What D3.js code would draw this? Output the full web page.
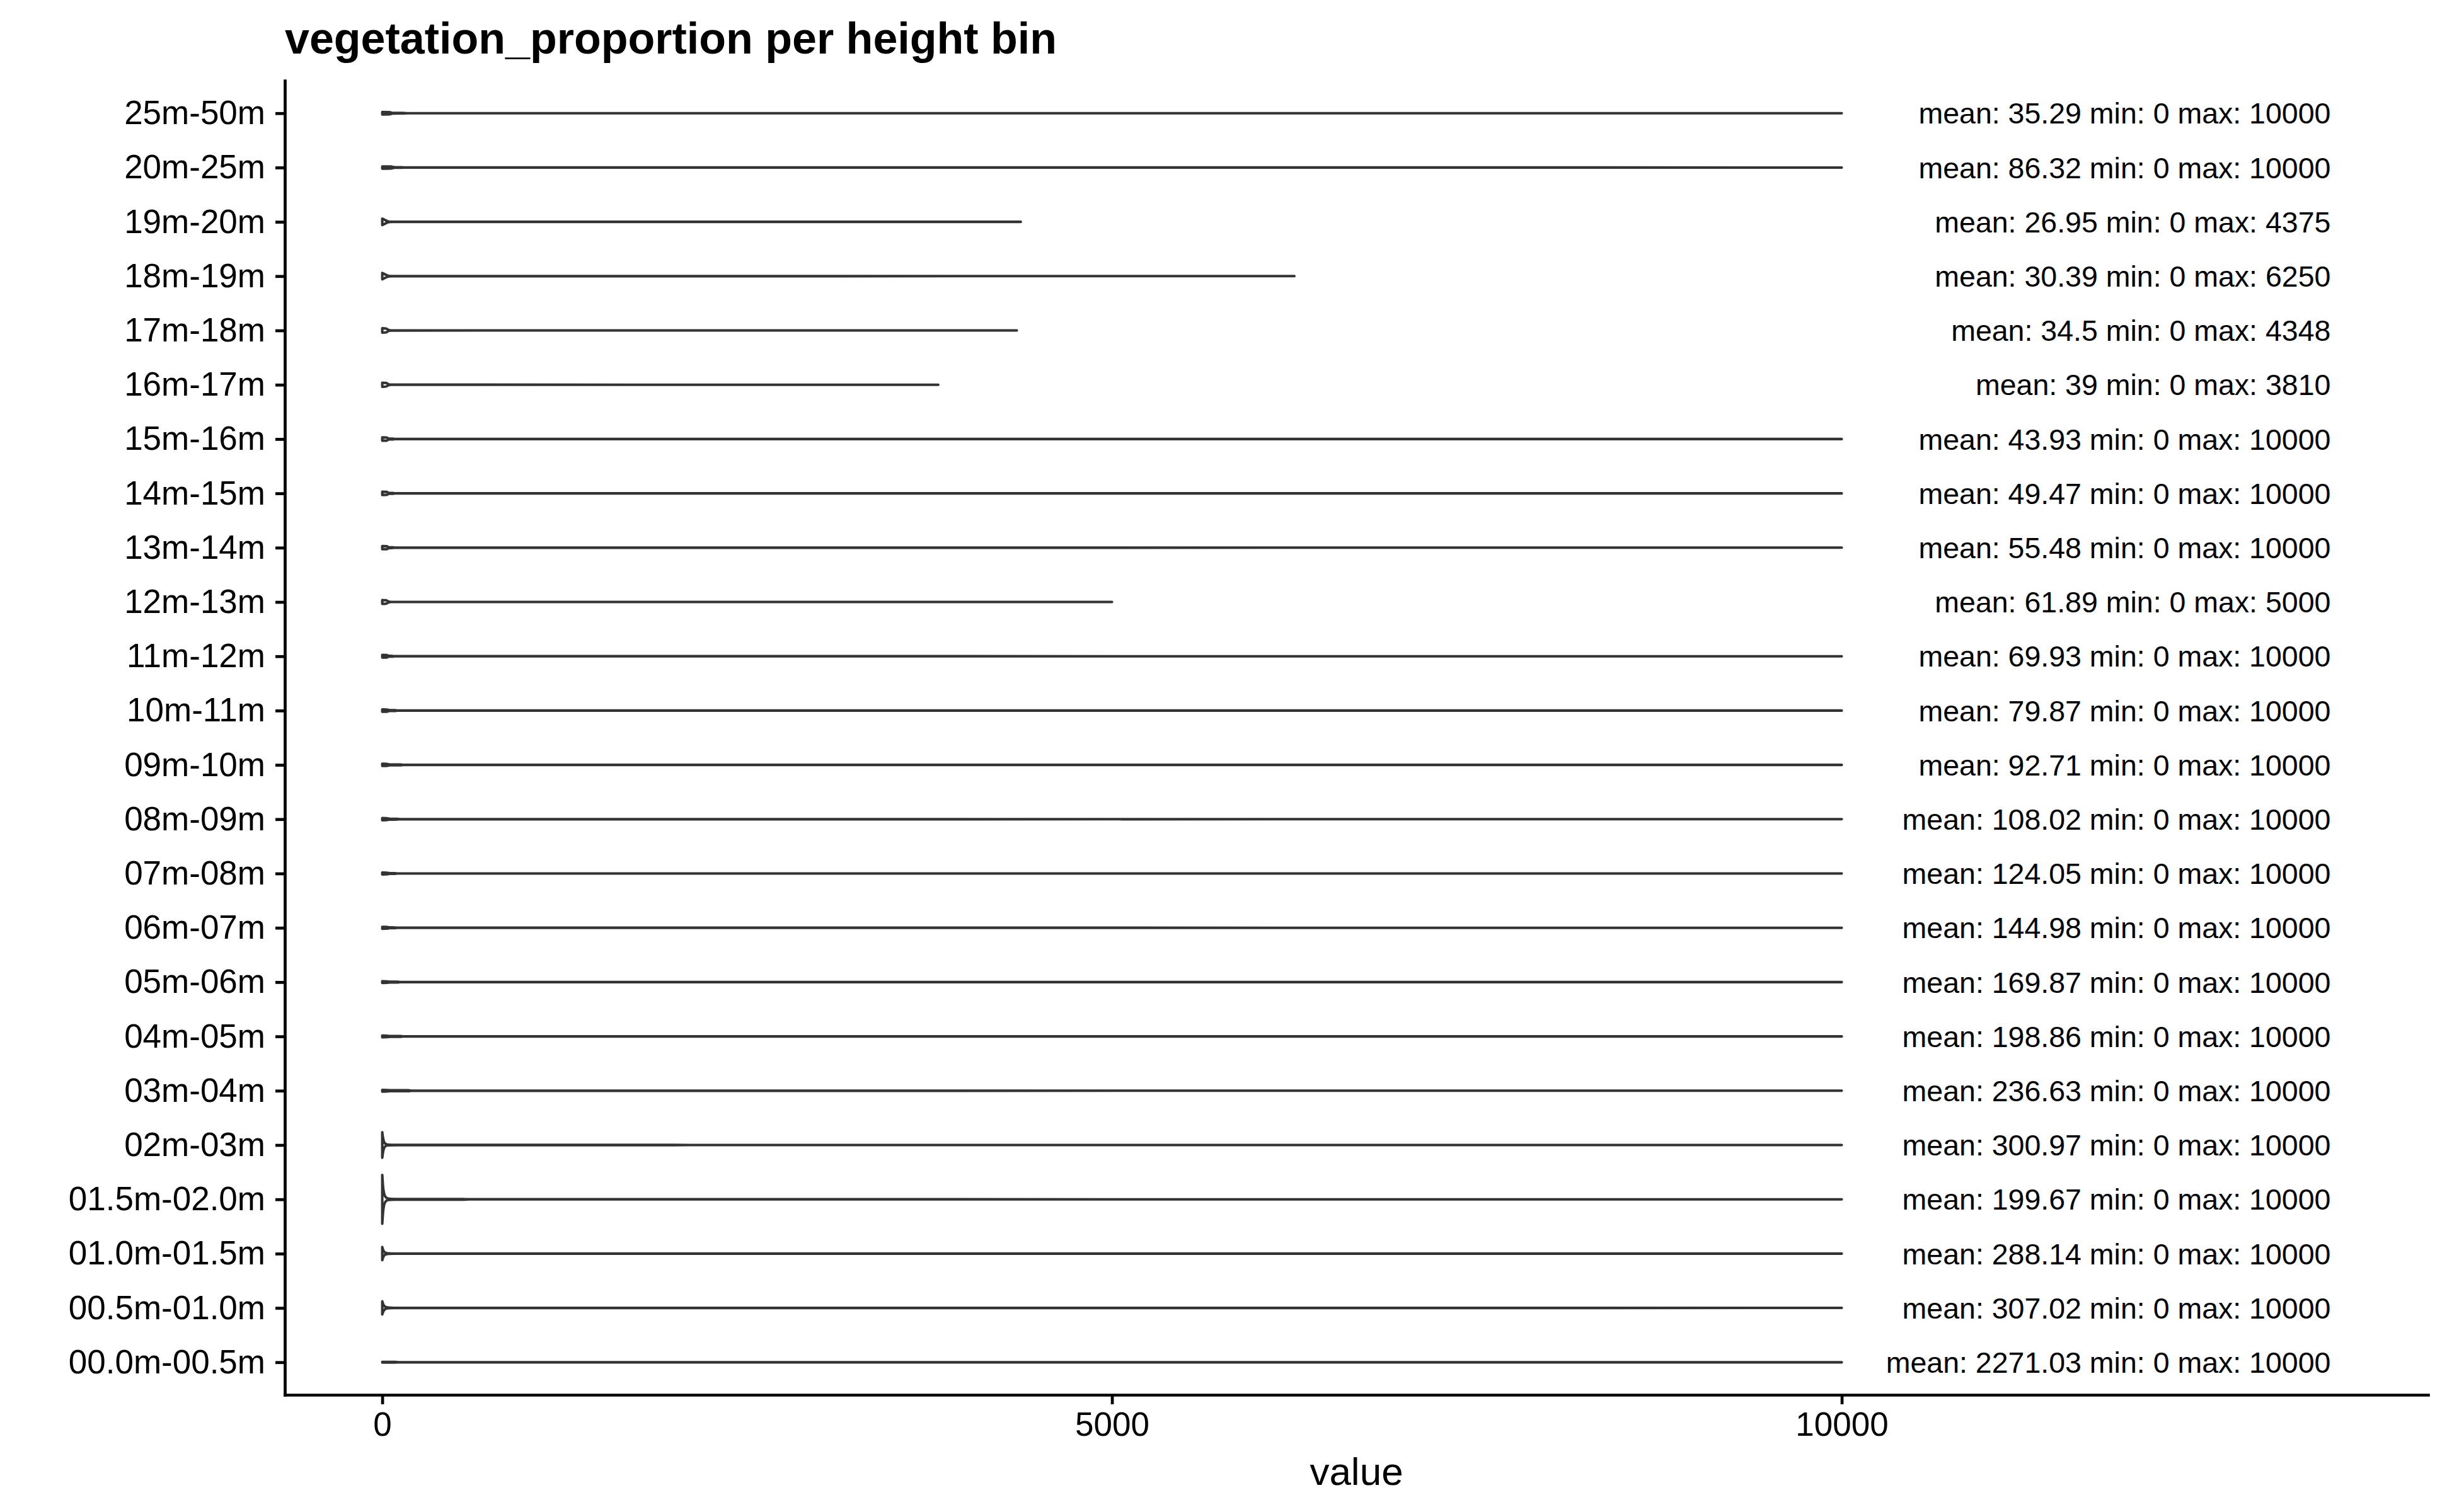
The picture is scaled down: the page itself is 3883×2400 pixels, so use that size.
<!DOCTYPE html>
<html lang="en">
<head>
    <meta charset="UTF-8">
    <title>vegetation_proportion per height bin</title>
    <script src="https://d3js.org/d3.v7.min.js"></script>
    <style>
        body { margin: 0; background: #fff; }
        svg text { font-family: "Liberation Sans", Arial, sans-serif; fill: #000; }
        .violin { fill: #fff; stroke: #333333; stroke-width: 4; stroke-linejoin: round; }
    </style>
</head>
<body>
    <div id="chart"></div>
    <script>
        // Height bins, bottom to top (ggplot order)
        const categories = ["00.0m-00.5m", "00.5m-01.0m", "01.0m-01.5m", "01.5m-02.0m", "02m-03m", "03m-04m",
            "04m-05m", "05m-06m", "06m-07m", "07m-08m", "08m-09m", "09m-10m", "10m-11m", "11m-12m",
            "12m-13m", "13m-14m", "14m-15m", "15m-16m", "16m-17m", "17m-18m", "18m-19m", "19m-20m",
            "20m-25m", "25m-50m"];

        const means = [2271.03, 307.02, 288.14, 199.67, 300.97, 236.63, 198.86, 169.87, 144.98, 124.05,
            108.02, 92.71, 79.87, 69.93, 61.89, 55.48, 49.47, 43.93, 39, 34.5, 30.39, 26.95, 86.32, 35.29];
        const mins = [0, 0, 0, 0, 0, 0, 0, 0, 0, 0, 0, 0, 0, 0, 0, 0, 0, 0, 0, 0, 0, 0, 0, 0];
        const maxs = [10000, 10000, 10000, 10000, 10000, 10000, 10000, 10000, 10000, 10000, 10000, 10000,
            10000, 10000, 5000, 10000, 10000, 10000, 3810, 4348, 6250, 4375, 10000, 10000];

        // violin profiles: [value, relative density]
        const densities = [
            [[0, 0.015], [90, 0.012], [110, 0.004], [10000, 0.004]],
            [[0, 0.27], [6, 0.16], [14, 0.08], [25, 0.035], [45, 0.012], [80, 0.004], [10000, 0.001]],
            [[0, 0.27], [6, 0.15], [14, 0.07], [25, 0.03], [45, 0.01], [80, 0.004], [10000, 0.001]],
            [[0, 1], [5, 0.55], [12, 0.25], [22, 0.1], [40, 0.03], [80, 0.014], [550, 0.012], [600, 0.002], [10000, 0.001]],
            [[0, 0.52], [5, 0.3], [12, 0.13], [22, 0.05], [40, 0.015], [100, 0.008], [2000, 0.006], [2150, 0.002], [10000, 0.001]],
            [[0, 0.035], [30, 0.03], [50, 0.02], [180, 0.018], [200, 0.003], [10000, 0.001]],
            [[0, 0.035], [30, 0.03], [50, 0.018], [125, 0.016], [140, 0.003], [10000, 0.001]],
            [[0, 0.035], [30, 0.03], [50, 0.016], [105, 0.014], [120, 0.003], [10000, 0.001]],
            [[0, 0.04], [30, 0.035], [50, 0.016], [88, 0.014], [100, 0.003], [10000, 0.001]],
            [[0, 0.04], [30, 0.035], [50, 0.016], [88, 0.014], [100, 0.003], [10000, 0.001]],
            [[0, 0.045], [30, 0.04], [50, 0.016], [105, 0.014], [120, 0.003], [10000, 0.001]],
            [[0, 0.045], [30, 0.04], [50, 0.018], [128, 0.016], [140, 0.003], [10000, 0.001]],
            [[0, 0.05], [30, 0.045], [50, 0.016], [88, 0.014], [100, 0.003], [10000, 0.001]],
            [[0, 0.055], [30, 0.05], [45, 0.016], [70, 0.014], [82, 0.003], [10000, 0.001]],
            [[0, 0.08], [25, 0.07], [45, 0.015], [60, 0.003], [5000, 0.001]],
            [[0, 0.065], [30, 0.06], [45, 0.016], [72, 0.014], [85, 0.003], [10000, 0.001]],
            [[0, 0.065], [30, 0.06], [45, 0.016], [72, 0.014], [85, 0.003], [10000, 0.001]],
            [[0, 0.07], [30, 0.065], [45, 0.016], [72, 0.014], [85, 0.003], [10000, 0.001]],
            [[0, 0.085], [25, 0.075], [45, 0.015], [60, 0.003], [3810, 0.001]],
            [[0, 0.09], [25, 0.08], [45, 0.015], [60, 0.003], [4348, 0.001]],
            [[0, 0.13], [20, 0.07], [45, 0.01], [70, 0.003], [6250, 0.001]],
            [[0, 0.13], [20, 0.07], [45, 0.01], [70, 0.003], [4375, 0.001]],
            [[0, 0.045], [60, 0.04], [85, 0.01], [130, 0.008], [170, 0.002], [10000, 0.001]],
            [[0, 0.05], [50, 0.045], [70, 0.012], [140, 0.01], [170, 0.002], [10000, 0.001]]
        ];

        const xTicks = [0, 5000, 10000];
        const labelX = 13350;   // where the right-aligned stats text ends, in value units

        const W = 3883, H = 2400;
        const panelLeft = 452, panelRight = 3853, panelTop = 128, panelBottom = 2214;

        const svg = d3.select('#chart').append('svg')
            .attr('width', W)
            .attr('height', H);

        // x covers 0..labelX with 5% padding like ggplot
        const pad = labelX * 0.05;
        const x = d3.scaleLinear()
            .domain([-pad, labelX + pad])
            .range([panelLeft, panelRight]);

        const y = d3.scalePoint()
            .domain(categories)
            .range([panelBottom, panelTop])
            .padding(0.6);

        const halfWidth = d3.scaleLinear()
            .domain([0, 1])
            .range([0, 0.45 * y.step()]);

        // violins
        const area = d3.area()
            .curve(d3.curveMonotoneX)
            .x(d => x(d[0]));

        svg.append('g')
            .selectAll('path')
            .data(categories)
            .join('path')
            .attr('class', 'violin')
            .attr('d', (c, i) => {
                const cy = y(c);
                return area
                    .y0(d => cy - halfWidth(d[1]))
                    .y1(d => cy + halfWidth(d[1]))(densities[i]);
            });

        // stats text
        svg.append('g')
            .selectAll('text')
            .data(categories)
            .join('text')
            .attr('x', x(labelX))
            .attr('y', c => y(c))
            .attr('dy', '0.36em')
            .attr('text-anchor', 'end')
            .style('font-size', '46.5px')
            .text((c, i) => `mean: ${means[i]} min: ${mins[i]} max: ${maxs[i]}`);

        // axes
        const xAxis = svg.append('g')
            .attr('transform', `translate(0,${panelBottom})`)
            .call(d3.axisBottom(x).tickValues(xTicks).tickFormat(d3.format('d'))
                .tickSize(15).tickSizeOuter(0).tickPadding(12));

        const yAxis = svg.append('g')
            .attr('transform', `translate(${panelLeft},0)`)
            .call(d3.axisLeft(y).tickSize(15).tickSizeOuter(0).tickPadding(16));

        [xAxis, yAxis].forEach(g => {
            g.select('.domain').attr('stroke', '#000').attr('stroke-width', 4.7).attr('stroke-linecap', 'square');
            g.selectAll('.tick line').attr('stroke', '#000').attr('stroke-width', 4.7);
            g.selectAll('.tick text')
                .attr('fill', '#000')
                .style('font-size', '53px')
                .style('font-family', '"Liberation Sans", Arial, sans-serif');
        });

        svg.append('text')
            .attr('x', (panelLeft + panelRight) / 2)
            .attr('y', 2357)
            .attr('text-anchor', 'middle')
            .style('font-size', '62px')
            .text('value');

        svg.append('text')
            .attr('x', panelLeft)
            .attr('y', 85)
            .style('font-size', '70px')
            .style('font-weight', 'bold')
            .text('vegetation_proportion per height bin');
    </script>
</body>
</html>
